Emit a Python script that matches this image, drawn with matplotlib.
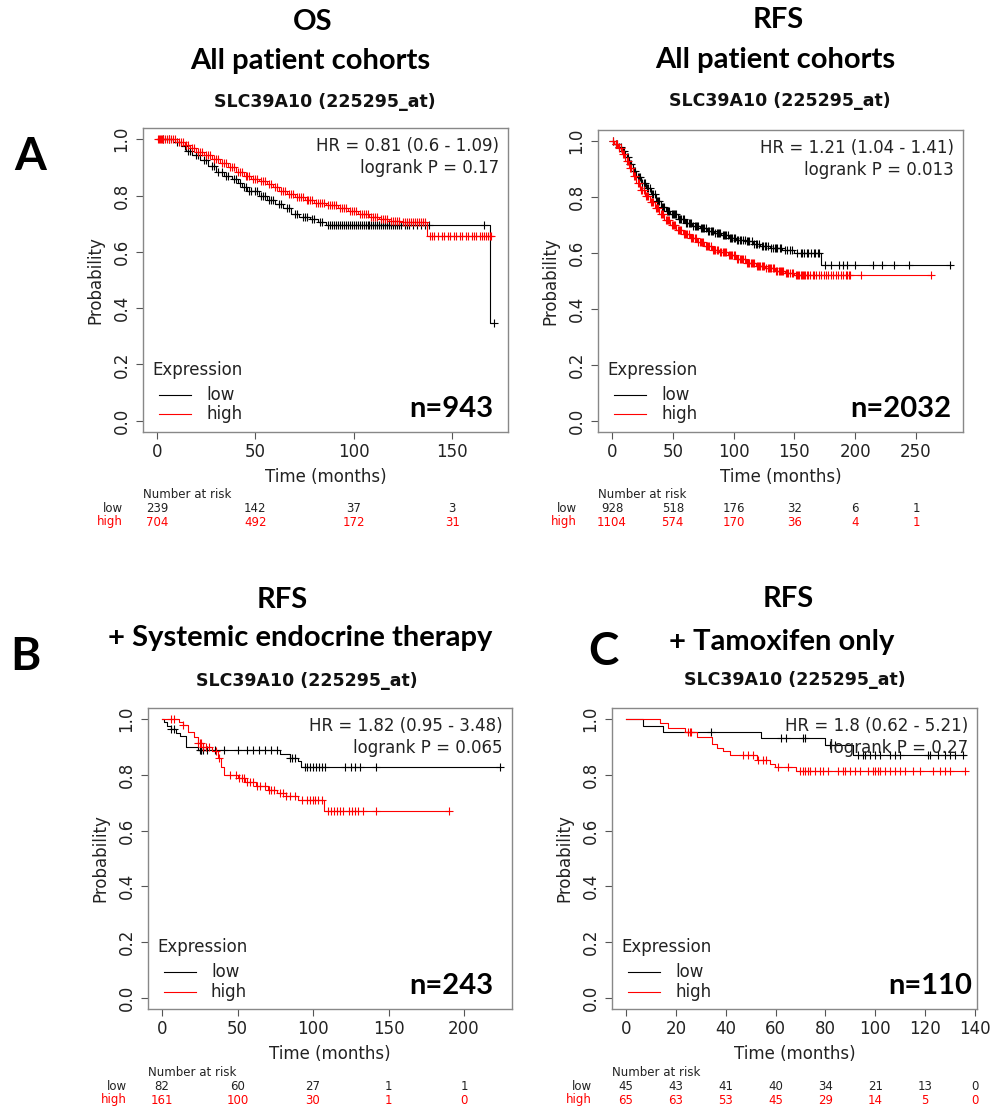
import numpy as np
import matplotlib
matplotlib.use('Agg')
import matplotlib.pyplot as plt
from matplotlib.transforms import blended_transform_factory

plt.rcParams['font.family'] = ['DejaVu Sans']

# ---- data ----
# A: OS, all patient cohorts
a_low_t = [0, 8, 12, 15, 18, 22, 26, 30, 34, 38, 41, 43, 46, 52, 56, 60, 64, 68, 72, 78, 82, 86, 169]
a_low_s = [1.0, 0.99, 0.975, 0.96, 0.945, 0.925, 0.905, 0.885, 0.87, 0.86, 0.845, 0.83, 0.815, 0.80,
           0.785, 0.77, 0.755, 0.735, 0.725, 0.715, 0.705, 0.697, 0.348]
a_low_end = 171.5
a_low_c = [3, 6, 10, 14, 16, 17, 20, 21, 24, 25, 28, 29, 31, 33, 35, 36, 39, 40, 42, 44, 45, 47, 48,
           50, 51, 53, 54, 55, 57, 58, 59, 62, 63, 66, 67, 70, 71, 74, 75, 76, 79, 80, 83, 84, 87, 88,
           89, 90, 91, 92, 93, 94, 95, 96, 97, 98, 99, 100, 101, 102, 103, 104, 105, 106, 107, 108,
           109, 110, 111, 112, 113, 114, 115, 116, 117, 118, 119, 120, 121, 122, 123, 124, 126, 127,
           128, 130, 132, 134, 136, 138, 166, 171.5]
a_high_t = [0, 10, 14, 17, 20, 24, 28, 32, 36, 40, 44, 48, 52, 56, 59, 62, 66, 70, 75, 80, 86, 92, 97,
            102, 108, 113, 118, 124, 137]
a_high_s = [1.0, 0.99, 0.98, 0.97, 0.955, 0.945, 0.93, 0.915, 0.90, 0.885, 0.87, 0.86, 0.85, 0.84, 0.83,
            0.815, 0.805, 0.795, 0.785, 0.775, 0.765, 0.755, 0.745, 0.735, 0.725, 0.718, 0.71, 0.705, 0.658]
a_high_end = 171
a_high_c = [0.5, 1, 1.5, 2, 2.5, 3, 4, 5, 6, 7, 8, 9, 11, 12, 13, 15, 16, 18, 19, 21, 22, 23, 25, 26,
            27, 29, 30, 31, 33, 34, 35, 37, 38, 39, 41, 42, 43, 45, 46, 47, 49, 50, 51, 53, 54, 55, 57,
            58, 60, 61, 63, 64, 65, 67, 68, 69, 71, 72, 73, 74, 76, 77, 78, 79, 81, 82, 83, 84, 85, 87,
            88, 89, 90, 91, 93, 94, 95, 96, 98, 99, 100, 101, 103, 104, 105, 106, 107, 109, 110, 111,
            112, 114, 115, 116, 117, 119, 120, 121, 122, 123, 125, 126, 127, 128, 129, 130, 131, 132,
            133, 134, 135, 136, 139, 140, 141, 143, 145, 146, 148, 149, 151, 152, 154, 155, 157, 158,
            160, 161, 162, 164, 165, 166, 167, 168, 169, 170]
a_ticks = [0, 50, 100, 150]
a_risk_low = [239, 142, 37, 3]
a_risk_high = [704, 492, 172, 31]

# B-top: RFS, all patient cohorts
b_low_t = [0, 2, 5, 8, 11, 14, 17, 20, 24, 28, 32, 36, 40, 44, 48, 54, 60, 66, 72, 78, 84, 90, 96, 102,
           110, 116, 122, 130, 140, 150, 172]
b_low_s = [1.0, 0.99, 0.98, 0.965, 0.945, 0.92, 0.895, 0.873, 0.85, 0.832, 0.81, 0.785, 0.765, 0.75,
           0.738, 0.722, 0.707, 0.695, 0.688, 0.68, 0.672, 0.665, 0.655, 0.648, 0.642, 0.632, 0.625,
           0.617, 0.612, 0.60, 0.557]
b_low_end = 279
b_low_c = [1, 3, 4, 6, 7, 9, 10, 12, 13, 15, 16, 18, 19, 21, 22, 23, 25, 26, 27, 29, 30, 31, 33, 34,
           35, 37, 38, 39, 41, 42, 43, 45, 46, 47, 49, 50, 51, 52, 53, 55, 56, 57, 58, 59, 61, 62, 63,
           64, 65, 67, 68, 69, 70, 71, 73, 74, 75, 76, 77, 79, 80, 81, 82, 83, 85, 86, 87, 88, 89, 91,
           92, 93, 94, 95, 97, 98, 99, 100, 101, 103, 104, 105, 106, 108, 109, 111, 112, 113, 115, 117,
           118, 119, 121, 123, 124, 126, 127, 128, 131, 132, 134, 135, 136, 138, 139, 142, 144, 146,
           148, 152, 155, 156, 158, 160, 161, 164, 166, 167, 169, 170, 175, 180, 187, 190, 193, 200,
           215, 222, 232, 244, 278]
b_high_t = [0, 2, 5, 8, 11, 14, 17, 20, 23, 27, 31, 35, 39, 43, 48, 53, 58, 64, 70, 76, 82, 88, 95, 102,
            110, 118, 126, 134, 142, 150]
b_high_s = [1.0, 0.99, 0.975, 0.955, 0.93, 0.905, 0.875, 0.85, 0.826, 0.805, 0.782, 0.762, 0.74, 0.718,
            0.70, 0.683, 0.668, 0.652, 0.638, 0.625, 0.612, 0.603, 0.593, 0.58, 0.565, 0.555, 0.545,
            0.535, 0.528, 0.52]
b_high_end = 263
b_high_c = [1, 3, 4, 6, 7, 9, 10, 12, 13, 15, 16, 18, 19, 21, 22, 24, 25, 26, 28, 29, 30, 32, 33, 34,
            36, 37, 38, 40, 41, 42, 44, 45, 46, 47, 49, 50, 51, 52, 54, 55, 56, 57, 59, 60, 61, 62, 63,
            65, 66, 67, 68, 69, 71, 72, 73, 74, 75, 77, 78, 79, 80, 81, 83, 84, 85, 86, 87, 89, 90, 91,
            92, 93, 94, 96, 97, 98, 99, 100, 101, 103, 104, 105, 106, 107, 108, 109, 111, 112, 113,
            114, 115, 116, 117, 119, 120, 121, 122, 123, 124, 125, 127, 128, 129, 130, 131, 132, 133,
            135, 136, 137, 138, 139, 140, 141, 143, 144, 145, 146, 148, 149, 151, 152, 153, 154, 155,
            156, 157, 158, 159, 160, 161, 163, 165, 166, 168, 170, 172, 174, 176, 178, 180, 182, 184,
            186, 188, 190, 192, 193, 195, 196, 205, 262]
b_ticks = [0, 50, 100, 150, 200, 250]
b_risk_low = [928, 518, 176, 32, 6, 1]
b_risk_high = [1104, 574, 170, 36, 4, 1]

# C-bottom left: RFS + systemic endocrine therapy
c_low_t = [0, 1, 3, 6, 9, 12, 16, 24, 78, 85, 90, 92]
c_low_s = [1.0, 0.988, 0.975, 0.963, 0.95, 0.938, 0.90, 0.888, 0.875, 0.862, 0.85, 0.83]
c_low_end = 224
c_low_c = [6, 8, 25, 25.5, 26, 27, 30, 35, 41, 50, 56, 60, 64, 68, 72, 76, 85, 86, 88, 95, 96, 98, 100,
           102, 104, 106, 108, 121, 125, 128, 131, 142, 224]
c_high_t = [0, 11, 14, 17, 21, 24, 27, 33, 37, 39, 41, 50, 55, 62, 70, 76, 82, 90, 107]
c_high_s = [1.0, 0.99, 0.978, 0.955, 0.935, 0.915, 0.90, 0.885, 0.86, 0.83, 0.80, 0.79, 0.775, 0.76,
            0.745, 0.735, 0.725, 0.71, 0.672]
c_high_end = 190
c_high_c = [6, 8, 14, 24, 25, 26, 27, 29, 31, 36, 38, 45, 49, 51, 53, 54, 56, 58, 60, 63, 65, 68, 71, 72,
            74, 78, 80, 82, 85, 88, 93, 96, 98, 100, 101, 103, 106, 110, 112, 114, 116, 118, 120, 124,
            126, 128, 130, 133, 142, 190]
c_ticks = [0, 50, 100, 150, 200]
c_risk_low = [82, 60, 27, 1, 1]
c_risk_high = [161, 100, 30, 1, 0]

# D-bottom right: RFS + tamoxifen only
d_low_t = [0, 7, 15, 54, 80, 91]
d_low_s = [1.0, 0.977, 0.955, 0.932, 0.908, 0.872]
d_low_end = 136
d_low_c = [34, 62, 64, 71, 72, 82, 84, 93, 95, 96, 98, 100, 102, 106, 108, 110, 121, 122, 125, 128,
           130, 132, 135]
d_high_t = [0, 13.6, 17, 23.7, 28.3, 34.4, 36.4, 39, 41.7, 52.4, 57.8, 59.8, 68.4]
d_high_s = [1.0, 0.985, 0.97, 0.955, 0.935, 0.91, 0.895, 0.885, 0.87, 0.855, 0.84, 0.83, 0.813]
d_high_end = 136
d_high_c = [25, 25.5, 26, 47, 49, 51, 53, 55, 56, 61, 65, 70, 71, 72, 73, 74, 76, 78, 79, 81, 85, 87,
            88, 90, 92, 94, 97, 99, 100, 101, 102, 104, 106, 108, 110, 112, 115, 118, 123, 126, 128,
            130, 136]
d_ticks = [0, 20, 40, 60, 80, 100, 120, 140]
d_risk_low = [45, 43, 41, 40, 34, 21, 13, 0]
d_risk_high = [65, 63, 53, 45, 29, 14, 5, 0]

W, H = 993, 1108
fig = plt.figure(figsize=(W / 100, H / 100), dpi=100)
RED = '#ff0000'
GRAY = '#888888'
TXT = '#222222'


def fy(py):
    return 1 - py / H


def fx(px):
    return px / W


def add_axes(left, right, top, bottom):
    return fig.add_axes([fx(left), fy(bottom), fx(right - left), (bottom - top) / H])


def km(ax, t, s, end, cens, color):
    tt = list(t) + [end]
    ss = list(s) + [s[-1]]
    ax.step(tt, ss, where='post', color=color, lw=0.8)
    idx = np.searchsorted(t, cens, side='right') - 1
    ax.plot(cens, np.array(s)[idx], ls='none', marker='+', ms=5.5, mew=0.8, color=color)


def panel(ax, low, high, ticks, xlim, hr, pval, n, n_x, risk_low, risk_high,
          rows_y, lab_x):
    km(ax, *low, 'black')
    km(ax, *high, RED)
    ax.set_xlim(*xlim)
    ax.set_ylim(-0.04, 1.04)
    ax.set_xticks(ticks)
    ax.set_yticks([0, 0.2, 0.4, 0.6, 0.8, 1.0])
    ax.set_yticklabels(['0.0', '0.2', '0.4', '0.6', '0.8', '1.0'])
    for sp in ax.spines.values():
        sp.set_color(GRAY)
        sp.set_linewidth(1.0)
    ax.tick_params(length=5, width=0.8, color='#555555', labelsize=12, labelcolor=TXT)
    ax.tick_params(axis='x', pad=3)
    ax.tick_params(axis='y', pad=4)
    plt.setp(ax.get_yticklabels(), rotation=90, va='center')
    ax.set_xlabel('Time (months)', fontsize=12, color=TXT, labelpad=5)
    ax.set_ylabel('Probability', fontsize=12, color=TXT, labelpad=6)
    ax.text(0.975, 0.94, 'HR = ' + hr, transform=ax.transAxes, ha='right', va='center',
            fontsize=12, color=TXT)
    ax.text(0.975, 0.868, 'logrank P = ' + pval, transform=ax.transAxes, ha='right',
            va='center', fontsize=12, color=TXT)
    # legend drawn like R's legend()
    ax.text(0.025, 0.205, 'Expression', transform=ax.transAxes, ha='left', va='center',
            fontsize=12, color=TXT)
    ax.plot([0.044, 0.132], [0.122, 0.122], transform=ax.transAxes, color='black', lw=0.8)
    ax.plot([0.044, 0.132], [0.058, 0.058], transform=ax.transAxes, color=RED, lw=0.8)
    ax.text(0.173, 0.122, 'low', transform=ax.transAxes, ha='left', va='center',
            fontsize=12, color=TXT)
    ax.text(0.173, 0.058, 'high', transform=ax.transAxes, ha='left', va='center',
            fontsize=12, color=TXT)
    ax.text(n_x, 0.075, n, transform=ax.transAxes, ha='right', va='center',
            fontsize=21, fontweight='bold', family='Lato', color='black')
    # number at risk table
    tr = blended_transform_factory(ax.transData, fig.transFigure)
    ax.text(0.0, fy(rows_y[0]), 'Number at risk', transform=blended_transform_factory(
        ax.transAxes, fig.transFigure), ha='left', va='center', fontsize=8.5, color=TXT)
    for x, lo, hi in zip(ticks, risk_low, risk_high):
        ax.text(x, fy(rows_y[1]), str(lo), transform=tr, ha='center', va='center',
                fontsize=8.5, color=TXT)
        ax.text(x, fy(rows_y[2]), str(hi), transform=tr, ha='center', va='center',
                fontsize=8.5, color=RED)
    fig.text(fx(lab_x), fy(rows_y[1]), 'low', ha='right', va='center', fontsize=8.5, color=TXT)
    fig.text(fx(lab_x), fy(rows_y[2]), 'high', ha='right', va='center', fontsize=8.5, color=RED)


axA = add_axes(143, 508, 128, 432)
panel(axA, (a_low_t, a_low_s, a_low_end, a_low_c), (a_high_t, a_high_s, a_high_end, a_high_c),
      a_ticks, (-7.1, 178.4), '0.81 (0.6 - 1.09)', '0.17', 'n=943', 0.96,
      a_risk_low, a_risk_high, (495, 508, 522), 123)

axB = add_axes(598, 963, 130, 432)
panel(axB, (b_low_t, b_low_s, b_low_end, b_low_c), (b_high_t, b_high_s, b_high_end, b_high_c),
      b_ticks, (-11.5, 288.6), '1.21 (1.04 - 1.41)', '0.013', 'n=2032', 0.967,
      b_risk_low, b_risk_high, (495, 508, 522), 577)

axC = add_axes(148, 512, 708, 1009)
panel(axC, (c_low_t, c_low_s, c_low_end, c_low_c), (c_high_t, c_high_s, c_high_end, c_high_c),
      c_ticks, (-9.3, 231.8), '1.82 (0.95 - 3.48)', '0.065', 'n=243', 0.948,
      c_risk_low, c_risk_high, (1073, 1087, 1100), 127)

axD = add_axes(612, 977, 708, 1009)
panel(axD, (d_low_t, d_low_s, d_low_end, d_low_c), (d_high_t, d_high_s, d_high_end, d_high_c),
      d_ticks, (-5.6, 140.8), '1.8 (0.62 - 5.21)', '0.27', 'n=110', 0.986,
      d_risk_low, d_risk_high, (1073, 1087, 1100), 592)

# titles
big = dict(ha='center', va='center', fontsize=21, fontweight='bold', family='Lato', color='black')
sub = dict(ha='center', va='center', fontsize=12.5, fontweight='bold', color='#111111')
fig.text(fx(313), fy(22), 'OS', **big)
fig.text(fx(310), fy(61), 'All patient cohorts', **big)
fig.text(fx(325), fy(102), 'SLC39A10 (225295_at)', **sub)
fig.text(fx(778), fy(20), 'RFS', **big)
fig.text(fx(775), fy(60), 'All patient cohorts', **big)
fig.text(fx(780), fy(101), 'SLC39A10 (225295_at)', **sub)
fig.text(fx(282), fy(600), 'RFS', **big)
fig.text(fx(300), fy(638), '+ Systemic endocrine therapy', **big)
fig.text(fx(307), fy(681), 'SLC39A10 (225295_at)', **sub)
fig.text(fx(788), fy(599), 'RFS', **big)
fig.text(fx(782), fy(642), '+ Tamoxifen only', **big)
fig.text(fx(795), fy(680), 'SLC39A10 (225295_at)', **sub)

letter = dict(ha='center', va='center', fontsize=33, fontweight='bold', family='Lato', color='black')
fig.text(fx(30), fy(157), 'A', **letter)
fig.text(fx(25), fy(657), 'B', **letter)
fig.text(fx(603), fy(652), 'C', **letter)

fig.savefig('out.png', dpi=100)
